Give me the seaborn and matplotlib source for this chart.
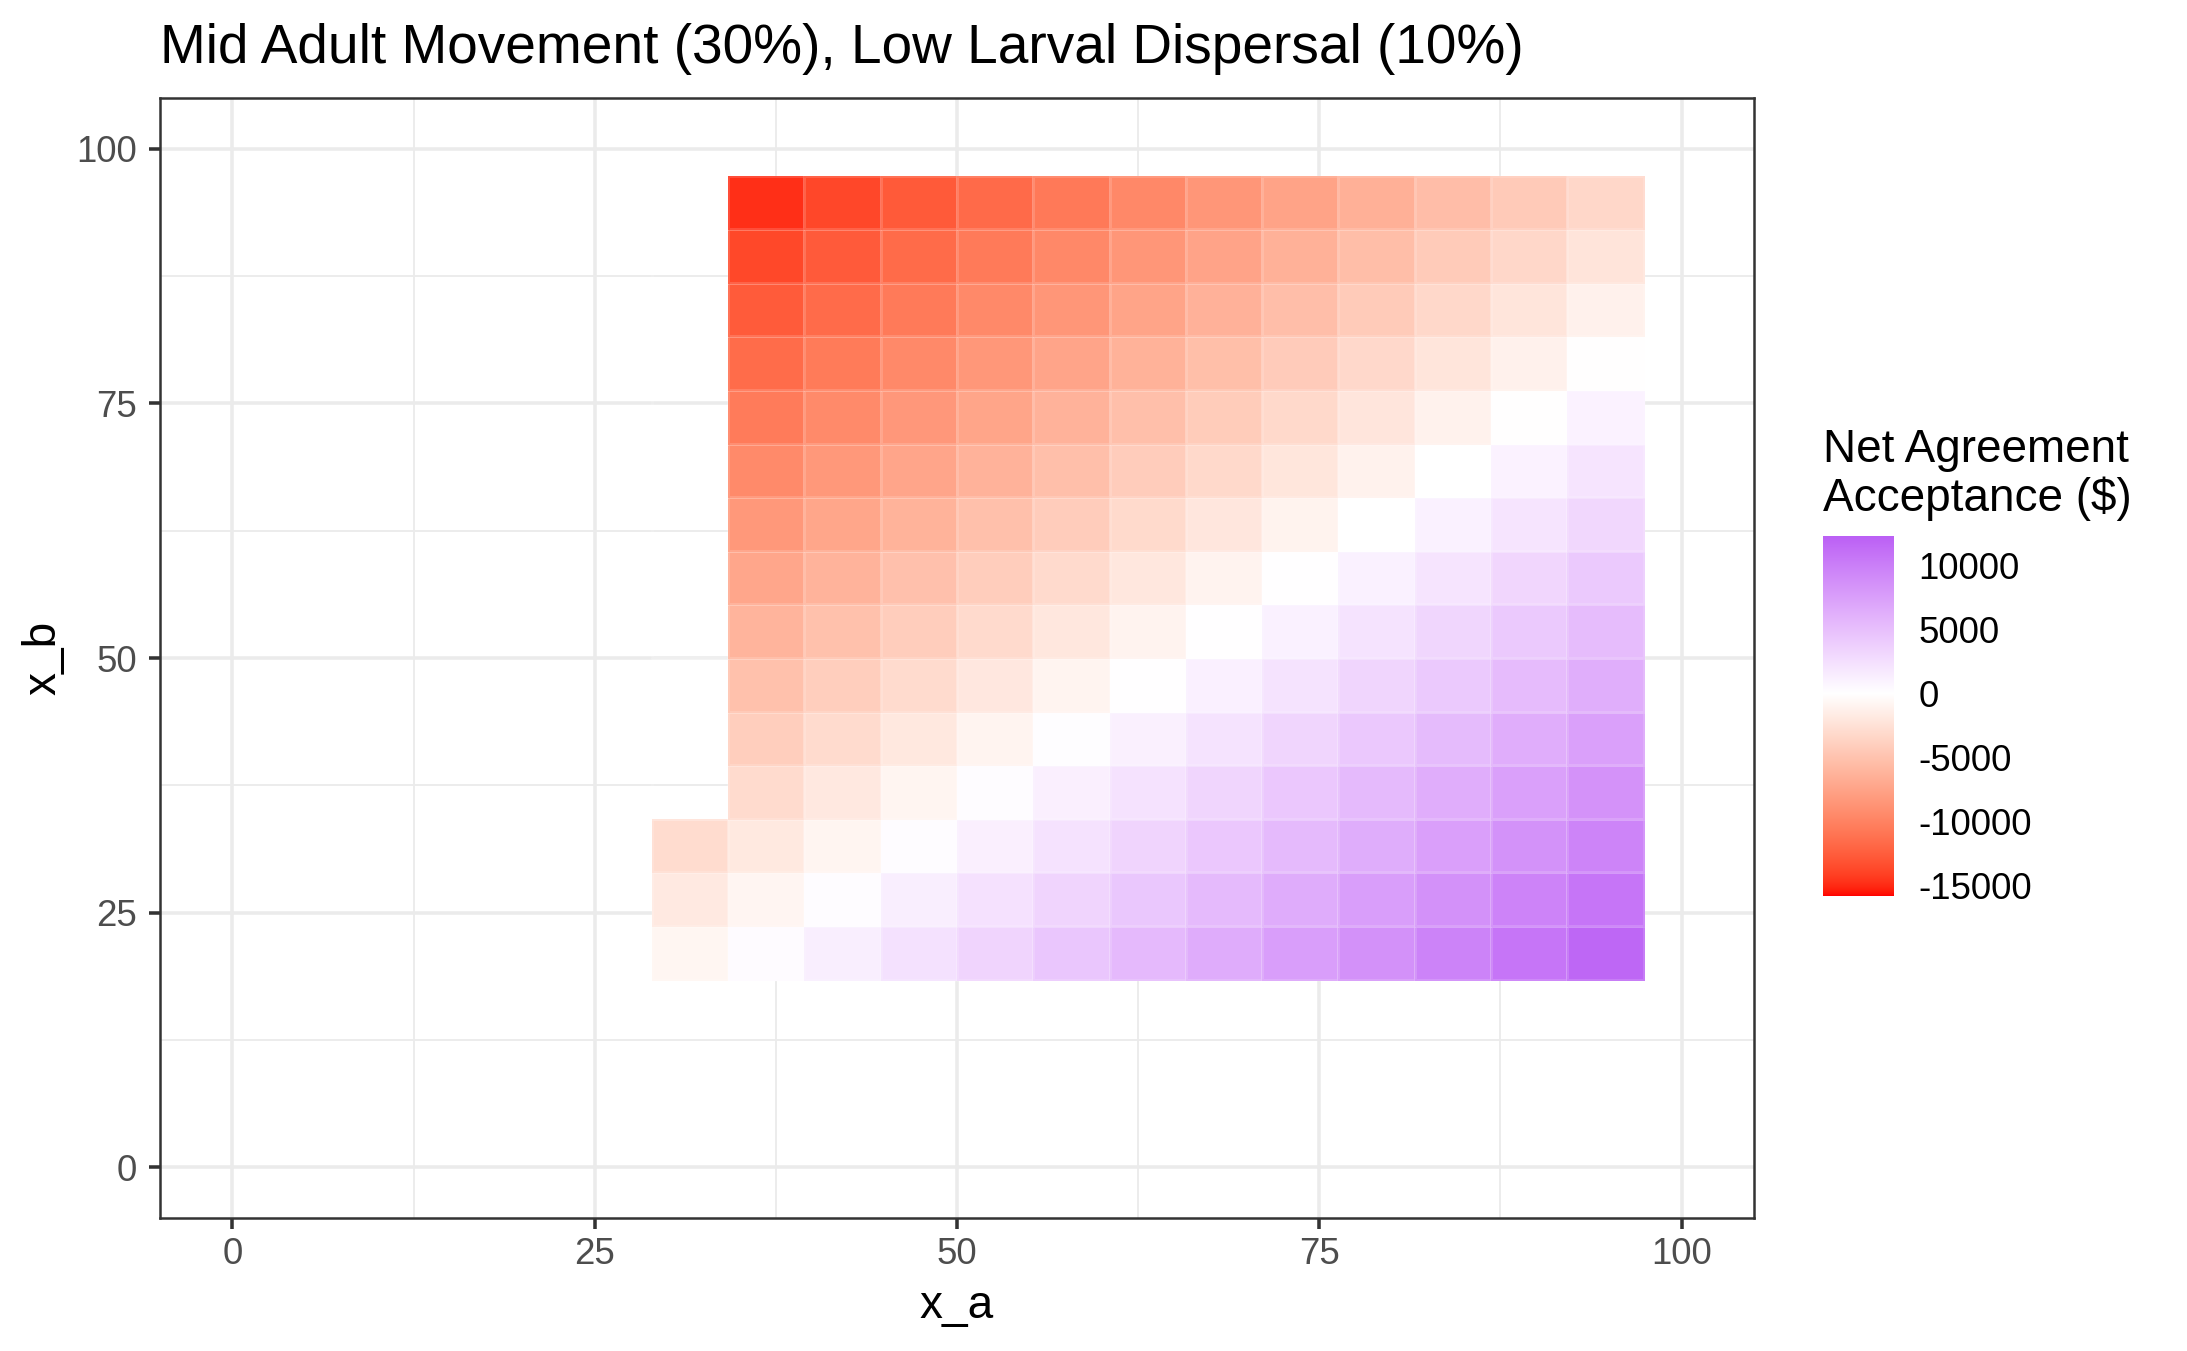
import numpy as np
import pandas as pd
import matplotlib
matplotlib.use("Agg")
import matplotlib.pyplot as plt
from matplotlib.colors import ListedColormap, Normalize
from matplotlib.ticker import FixedLocator
import seaborn as sns

# ---------------- data ----------------
title = "Mid Adult Movement (30%), Low Larval Dispersal (10%)"
legend_title = "Net Agreement\nAcceptance (\\$)"
x_label = "x_a"
y_label = "x_b"

x_a = [31.58, 36.84, 42.11, 47.37, 52.63, 57.89, 63.16, 68.42, 73.68, 78.95, 84.21, 89.47, 94.74]
x_b = [21.05, 26.32, 31.58, 36.84, 42.11, 47.37, 52.63, 57.89, 63.16, 68.42, 73.68, 78.95, 84.21, 89.47, 94.74]

# net agreement acceptance ($), one list per x_b row (columns follow x_a)
row_b21 = [-760, 290, 1330, 2380, 3420, 4470, 5510, 6560, 7600, 8650, 9690, 10740, 11780]
row_b26 = [-1840, -790, 250, 1300, 2340, 3390, 4430, 5480, 6520, 7570, 8610, 9660, 10700]
row_b32 = [-2920, -1870, -830, 220, 1270, 2310, 3360, 4400, 5450, 6490, 7540, 8580, 9630]
row_b37 = [None, -2950, -1900, -860, 190, 1230, 2280, 3320, 4370, 5410, 6460, 7500, 8550]
row_b42 = [None, -4030, -2980, -1940, -890, 150, 1200, 2240, 3290, 4330, 5380, 6420, 7470]
row_b47 = [None, -5100, -4060, -3010, -1970, -920, 120, 1170, 2210, 3260, 4300, 5350, 6390]
row_b53 = [None, -6180, -5140, -4090, -3050, -2000, -960, 90, 1130, 2180, 3220, 4270, 5310]
row_b58 = [None, -7260, -6220, -5170, -4130, -3080, -2040, -990, 60, 1100, 2150, 3190, 4240]
row_b63 = [None, -8340, -7290, -6250, -5200, -4160, -3110, -2070, -1020, 20, 1070, 2110, 3160]
row_b68 = [None, -9420, -8370, -7330, -6280, -5240, -4190, -3150, -2100, -1060, -10, 1030, 2080]
row_b74 = [None, -10490, -9450, -8400, -7360, -6310, -5270, -4220, -3180, -2130, -1090, -40, 1000]
row_b79 = [None, -11570, -10530, -9480, -8440, -7390, -6350, -5300, -4260, -3210, -2170, -1120, -80]
row_b84 = [None, -12650, -11610, -10560, -9520, -8470, -7430, -6380, -5340, -4290, -3250, -2200, -1160]
row_b89 = [None, -13730, -12680, -11640, -10590, -9550, -8500, -7460, -6410, -5370, -4320, -3280, -2230]
row_b95 = [None, -14810, -13760, -12720, -11670, -10630, -9580, -8540, -7490, -6450, -5400, -4360, -3310]

fill_limits = [-15800, 12320]
legend_ticks = [-15000, -10000, -5000, 0, 5000, 10000]
axis_ticks = [0, 25, 50, 75, 100]
minor_ticks = [12.5, 37.5, 62.5, 87.5]

low_col, mid_col, high_col = "#FF0000", "#FFFFFF", "#A020F0"

rows = [row_b21, row_b26, row_b32, row_b37, row_b42, row_b47, row_b53, row_b58,
        row_b63, row_b68, row_b74, row_b79, row_b84, row_b89, row_b95]

records = []
for yb, row in zip(x_b, rows):
    for xa, v in zip(x_a, row):
        if v is not None:
            records.append({"x_a": xa, "x_b": yb, "value": v})
df = pd.DataFrame(records)
grid = df.pivot(index="x_b", columns="x_a", values="value")
Z = np.ma.masked_invalid(grid.values.astype(float))

# ---------------- colour scale (Lab interpolation like ggplot gradient2) ----------------
_M = np.array([[0.4124564, 0.3575761, 0.1804375],
               [0.2126729, 0.7151522, 0.0721750],
               [0.0193339, 0.1191920, 0.9503041]])
_Minv = np.linalg.inv(_M)
_wp = np.array([0.95047, 1.0, 1.08883])


def hex_to_lab(h):
    h = h.lstrip("#")
    c = np.array([int(h[i:i + 2], 16) / 255 for i in (0, 2, 4)])
    lin = np.where(c <= 0.04045, c / 12.92, ((c + 0.055) / 1.055) ** 2.4)
    t = (_M @ lin) / _wp
    d = 6 / 29
    f = np.where(t > d ** 3, np.cbrt(t), t / (3 * d * d) + 4 / 29)
    return np.array([116 * f[1] - 16, 500 * (f[0] - f[1]), 200 * (f[1] - f[2])])


def lab_to_rgb(lab):
    L, a, b = lab
    fy = (L + 16) / 116
    fx = fy + a / 500
    fz = fy - b / 200
    d = 6 / 29
    f = np.array([fx, fy, fz])
    t = np.where(f > d, f ** 3, 3 * d * d * (f - 4 / 29))
    lin = _Minv @ (t * _wp)
    lin = np.clip(lin, 0, 1)
    c = np.where(lin <= 0.0031308, 12.92 * lin, 1.055 * lin ** (1 / 2.4) - 0.055)
    return np.clip(c, 0, 1)


lab_low, lab_mid, lab_high = hex_to_lab(low_col), hex_to_lab(mid_col), hex_to_lab(high_col)
vmin, vmax = fill_limits
maxabs = max(abs(vmin), abs(vmax))
samples = np.linspace(vmin, vmax, 1024)
cols = []
for v in samples:
    s = v / maxabs
    if s < 0:
        cols.append(lab_to_rgb(lab_mid + (lab_low - lab_mid) * (-s)))
    else:
        cols.append(lab_to_rgb(lab_mid + (lab_high - lab_mid) * s))
cmap = ListedColormap(cols)
norm = Normalize(vmin=vmin, vmax=vmax)

# ---------------- figure ----------------
sns.set_theme(style="white")
plt.rcParams["font.family"] = ["Liberation Sans", "DejaVu Sans"]

W, H = 2187, 1351
dpi = 300
fig = plt.figure(figsize=(W / dpi, H / dpi), dpi=dpi)
fig.patch.set_facecolor("white")

pl, pr, pt, pb = 160, 1754, 98, 1218
ax = fig.add_axes([pl / W, 1 - pb / H, (pr - pl) / W, (pb - pt) / H])
ax.set_facecolor("white")

mesh = ax.pcolormesh(grid.columns.values, grid.index.values, Z, cmap=cmap, norm=norm,
                     shading="nearest", edgecolors=(1, 1, 1, 0.15), linewidth=0.25, zorder=2)

ax.set_xlim(-5, 105)
ax.set_ylim(-5, 105)
ax.xaxis.set_major_locator(FixedLocator(axis_ticks))
ax.yaxis.set_major_locator(FixedLocator(axis_ticks))
ax.xaxis.set_minor_locator(FixedLocator(minor_ticks))
ax.yaxis.set_minor_locator(FixedLocator(minor_ticks))
ax.set_axisbelow(True)
ax.grid(which="major", color="#EBEBEB", linewidth=0.85, zorder=0)
ax.grid(which="minor", color="#EBEBEB", linewidth=0.45, zorder=0)
for sp in ax.spines.values():
    sp.set_visible(True)
    sp.set_color("#333333")
    sp.set_linewidth(0.6)
    sp.set_zorder(5)

ax.tick_params(axis="both", which="major", direction="out", length=2.75, width=0.85,
               color="#333333", labelcolor="#4D4D4D", labelsize=8.8,
               bottom=True, left=True, top=False, right=False)
ax.tick_params(axis="x", which="major", pad=1.8)
ax.tick_params(axis="y", which="major", pad=2.7)
ax.tick_params(axis="both", which="minor", length=0)

ax.set_xlabel(x_label, fontsize=11, color="black")
ax.set_ylabel(y_label, fontsize=11, color="black")
ax.xaxis.set_label_coords(0.5, (pb - 1318) / (pb - pt))
ax.xaxis.label.set_va("baseline")
ax.yaxis.set_label_coords((55 - pl) / (pr - pl), 0.5)
ax.yaxis.label.set_va("baseline")
ax.yaxis.label.set_rotation_mode("anchor")

fig.text(pl / W, 1 - 63 / H, title, ha="left", va="baseline", fontsize=13.2, color="black")

# colorbar
cl, cr, ct, cbm = 1823, 1894, 536, 896
cax = fig.add_axes([cl / W, 1 - cbm / H, (cr - cl) / W, (cbm - ct) / H])
cb = fig.colorbar(mesh, cax=cax, ticks=legend_ticks)
cb.outline.set_visible(False)
cax.yaxis.set_ticks_position("both")
cax.tick_params(axis="y", which="major", direction="in", length=3.4, width=0.6,
                colors="white", labelcolor="black", labelsize=8.8, pad=5.8,
                labelleft=False, labelright=True)
cax.tick_params(axis="y", which="minor", length=0)
cb.ax.set_yticklabels([str(t) for t in legend_ticks])

fig.text(cl / W, 1 - 428 / H, legend_title, ha="left", va="top", fontsize=11,
         linespacing=1.12, color="black")

fig.savefig("out.png", dpi=dpi, facecolor="white")
